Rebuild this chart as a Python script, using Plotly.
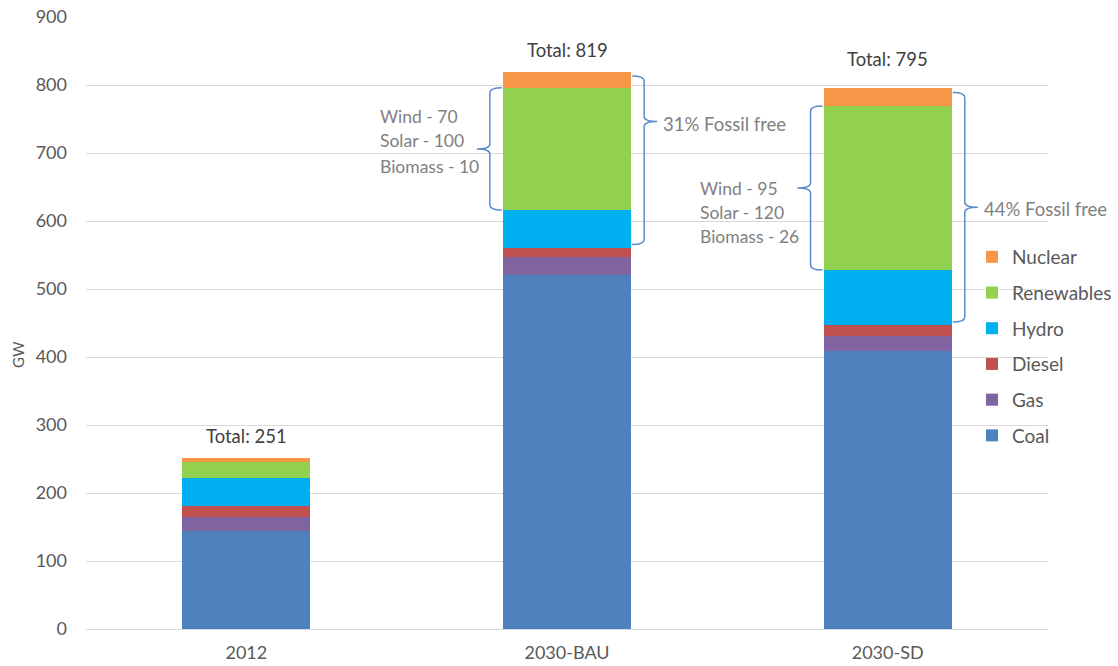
import plotly.graph_objects as go

# Installed generating capacity (GW) by scenario
scenarios = ["2012", "2030-BAU", "2030-SD"]
coal = [144, 520, 409]
gas = [21, 27, 22]
diesel = [16, 14, 16]
hydro = [41, 55, 81]
renewables = [23, 180, 241]
nuclear = [6, 23, 26]

# Renewable breakdown for the 2030 scenarios
ren_breakdown = {
    1: ["Wind - 70", "Solar - 100", "Biomass - 10"],
    2: ["Wind - 95", "Solar - 120", "Biomass - 26"],
}
fossil_free_pct = {1: 31, 2: 44}

series = [
    ("Coal", coal, "#4F81BD"),
    ("Gas", gas, "#8064A2"),
    ("Diesel", diesel, "#C0504D"),
    ("Hydro", hydro, "#00B0F0"),
    ("Renewables", renewables, "#92D050"),
    ("Nuclear", nuclear, "#F79646"),
]

FONT = "Lato"
W, H = 1118, 666
L, R, T, B = 86, 70, 17, 37
YMAX = 900
BAR_W = 0.4
px_x = (W - L - R) / 3.0          # pixels per category unit
px_y = (H - T - B) / YMAX         # pixels per GW

x = list(range(len(scenarios)))
fig = go.Figure()
for k, (name, vals, color) in enumerate(series):
    fig.add_trace(go.Bar(
        x=x, y=vals, name=name, width=BAR_W,
        marker=dict(color=color, line=dict(width=0)),
        legendgroup=name,
        legendrank=1000 - k,        # top of the stack listed first
        hoverinfo="skip",
    ))

totals = [sum(v[i] for _, v, _ in series) for i in x]

# "Total" labels above each stack
total_shift = [22, 22, 29]
for i in x:
    fig.add_annotation(x=i, y=totals[i], text=f"Total: {totals[i]}",
                       showarrow=False, yanchor="middle", yshift=total_shift[i],
                       font=dict(family=FONT, size=18.5, color="#404040"))


def brace(xv, xh, xt, y0, y1, ym):
    """Curly bracket: vertical at xv, end hooks to xh, middle tick to xt."""
    ry = 5 / px_y
    return (f"M{xh},{y1} Q{xv},{y1} {xv},{y1 - ry} "
            f"L{xv},{ym + ry} Q{xv},{ym} {xt},{ym} "
            f"Q{xv},{ym} {xv},{ym - ry} "
            f"L{xv},{y0 + ry} Q{xv},{y0} {xh},{y0}")


BRACE_COLOR = "#5B8BCB"
gap = 13 / px_x
tick = 13 / px_x
for i in (1, 2):
    base_fossil = coal[i] + gas[i] + diesel[i]
    ren_lo = base_fossil + hydro[i]
    ren_hi = ren_lo + renewables[i]
    left_edge = i - BAR_W / 2
    right_edge = i + BAR_W / 2

    # left bracket around the renewables block
    ym_l = (ren_lo + ren_hi) / 2
    fig.add_shape(type="path", xref="x", yref="y",
                  path=brace(left_edge - gap, left_edge - 1 / px_x,
                             left_edge - gap - tick, ren_lo, ren_hi, ym_l),
                  line=dict(color=BRACE_COLOR, width=1.5))

    # right bracket around all fossil-free capacity
    frac = 0.27 if i == 1 else 0.5
    top = totals[i] - 4 / px_y
    bot = base_fossil + 3 / px_y
    ym_r = top - frac * (top - bot)
    fig.add_shape(type="path", xref="x", yref="y",
                  path=brace(right_edge + gap, right_edge + 1 / px_x,
                             right_edge + gap + tick, bot, top, ym_r),
                  line=dict(color=BRACE_COLOR, width=1.5))

    fig.add_annotation(x=right_edge + gap + tick + 4 / px_x, y=ym_r,
                       text=f"{fossil_free_pct[i]}% Fossil free",
                       showarrow=False, xanchor="left", yanchor="middle",
                       yshift=-2,
                       font=dict(family=FONT, size=18.5, color="#808080"))

    shifts = [32, 8, -18] if i == 1 else [0, -24, -48]
    for line, s in zip(ren_breakdown[i], shifts):
        fig.add_annotation(x=i - 0.59, y=ym_l, text=line, showarrow=False,
                           xanchor="left", yanchor="middle", yshift=s,
                           font=dict(family=FONT, size=17.5, color="#808080"))

# y-axis title
fig.add_annotation(xref="paper", yref="paper", x=(18 - L) / (W - L - R),
                   y=(H - B - 355) / (H - T - B), text="GW", textangle=-90,
                   showarrow=False, xanchor="center", yanchor="middle",
                   font=dict(family=FONT, size=15, color="#595959"))

fig.update_layout(
    width=W, height=H,
    margin=dict(l=L, r=R, t=T, b=B, autoexpand=False),
    barmode="stack",
    plot_bgcolor="white", paper_bgcolor="white",
    font=dict(family=FONT, color="#595959"),
    showlegend=True,
    legend=dict(
        traceorder="grouped", tracegroupgap=8,
        x=(972 - L) / (W - L - R), xanchor="left",
        y=(H - B - 238) / (H - T - B), yanchor="top",
        bgcolor="rgba(0,0,0,0)",
        font=dict(family=FONT, size=19, color="#595959"),
        itemwidth=30,
    ),
    xaxis=dict(
        range=[-0.5, 2.5], tickvals=x, ticktext=scenarios,
        showgrid=False, zeroline=False, showline=False,
        ticks="", ticklabelstandoff=11,
        tickfont=dict(family=FONT, size=18, color="#595959"),
        fixedrange=True,
    ),
    yaxis=dict(
        range=[0, YMAX], dtick=100, showgrid=True, gridcolor="#D9D9D9",
        gridwidth=1, zeroline=True, zerolinecolor="#D9D9D9", zerolinewidth=1,
        showline=False, ticks="", ticklabelstandoff=18,
        tickfont=dict(family=FONT, size=18, color="#595959"),
        fixedrange=True,
    ),
)

fig.write_html("out.html")
